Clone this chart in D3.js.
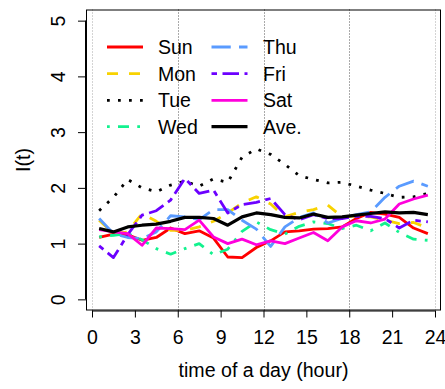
<!DOCTYPE html>
<html>
<head>
<meta charset="utf-8">
<script src="https://cdn.jsdelivr.net/npm/d3@7"></script>
<style>
  html, body { margin: 0; padding: 0; background: #fff; }
  svg { display: block; font-family: "Liberation Sans", Arial, Helvetica, sans-serif; }
</style>
</head>
<body>
<svg id="chart" width="445" height="389"></svg>
<script>
// Hourly intensity I(t) per weekday, sampled at the middle of each hour
const hours = [0.5, 1.5, 2.5, 3.5, 4.5, 5.5, 6.5, 7.5, 8.5, 9.5, 10.5, 11.5,
               12.5, 13.5, 14.5, 15.5, 16.5, 17.5, 18.5, 19.5, 20.5, 21.5, 22.5, 23.5];

const sun = [1.11, 1.17, 1.16, 1.06, 1.11, 1.28, 1.18, 1.23, 1.10, 0.76, 0.75, 0.93,
             1.05, 1.21, 1.23, 1.26, 1.27, 1.30, 1.45, 1.56, 1.53, 1.47, 1.28, 1.18];
const mon = [1.42, 1.18, 1.21, 1.54, 1.40, 1.24, 1.24, 1.30, 1.40, 1.55, 1.73, 1.84,
             1.71, 1.48, 1.56, 1.61, 1.69, 1.48, 1.49, 1.48, 1.42, 1.36, 1.38, 1.28];
const tue = [1.59, 1.83, 2.15, 2.00, 1.93, 2.05, 2.12, 2.03, 2.16, 2.10, 2.55, 2.70,
             2.60, 2.42, 2.22, 2.15, 2.09, 2.10, 2.03, 1.96, 1.90, 1.83, 1.84, 1.90];
const wed = [1.12, 1.15, 1.18, 1.07, 0.91, 0.81, 0.91, 1.00, 0.80, 0.90, 1.22, 1.39,
             1.25, 1.17, 1.31, 1.39, 1.36, 1.27, 1.33, 1.23, 1.37, 1.20, 1.08, 1.06];
const thu = [1.45, 1.18, 1.11, 1.09, 1.21, 1.50, 1.48, 1.43, 1.61, 1.61, 1.42, 1.26,
             0.95, 1.30, 1.47, 1.55, 1.37, 1.45, 1.52, 1.57, 1.83, 2.03, 2.12, 2.03];
const fri = [0.96, 0.75, 1.16, 1.51, 1.59, 1.78, 2.17, 1.90, 1.96, 1.55, 1.70, 1.74,
             1.81, 1.52, 1.43, 1.52, 1.45, 1.45, 1.49, 1.49, 1.45, 1.28, 1.42, 1.39];
const sat = [1.25, 1.21, 1.18, 0.97, 1.28, 1.27, 1.25, 1.42, 1.12, 1.00, 1.08, 0.98,
             1.05, 1.00, 1.10, 1.20, 1.05, 1.30, 1.41, 1.37, 1.44, 1.71, 1.80, 1.87];
const ave = [1.27, 1.21, 1.30, 1.33, 1.35, 1.40, 1.47, 1.47, 1.45, 1.33, 1.48, 1.55,
             1.52, 1.47, 1.46, 1.53, 1.47, 1.48, 1.51, 1.54, 1.57, 1.55, 1.56, 1.52];

const seriesNames = ["Sun", "Mon", "Tue", "Wed", "Thu", "Fri", "Sat", "Ave."];
const seriesValues = [sun, mon, tue, wed, thu, fri, sat, ave];
const seriesColors = ["#ff0000", "#f8d200", "#000000", "#12f28e", "#5a9bff", "#6c00ff", "#ff00dc", "#000000"];
const seriesDashes = ["none", "11,11", "2.75,8.25", "2.75,8.25,11,8.25", "19.25,8.25", "5.5,5.5,16.5,5.5", "none", "none"];

const xTicks = [0, 3, 6, 9, 12, 15, 18, 21, 24];
const yTicks = [0, 1, 2, 3, 4, 5];
const guideHours = [0, 6, 12, 18, 24];

const svg = d3.select("#chart");
const box = { left: 86, right: 441, top: 9.5, bottom: 310.5 };

const x = d3.scaleLinear().domain([-0.42, 24.42]).range([box.left, box.right]);
const y = d3.scaleLinear().domain([-0.2, 5.2]).range([box.bottom, box.top]);

svg.append("defs").append("clipPath").attr("id", "plotClip")
  .append("rect")
  .attr("x", box.left).attr("y", box.top)
  .attr("width", box.right - box.left).attr("height", box.bottom - box.top);

// dotted guides every six hours
svg.append("g").selectAll("line").data(guideHours).join("line")
  .attr("x1", d => Math.round(x(d)) + 0.5).attr("x2", d => Math.round(x(d)) + 0.5)
  .attr("y1", box.top).attr("y2", box.bottom)
  .attr("stroke", d => (d === 0 || d === 24) ? "#a8a8a8" : "#555")
  .attr("stroke-width", 1)
  .attr("stroke-dasharray", "1,2");

// series lines
const line = d3.line().x((d, i) => x(hours[i])).y(d => y(d));
const plot = svg.append("g").attr("clip-path", "url(#plotClip)");
seriesValues.forEach((vals, k) => {
  plot.append("path")
    .datum(vals)
    .attr("d", line)
    .attr("fill", "none")
    .attr("stroke", seriesColors[k])
    .attr("stroke-width", k === 7 ? 3.2 : 2.8)
    .attr("stroke-dasharray", seriesDashes[k])
    .attr("stroke-linejoin", "round");
});

// plot frame
svg.append("rect")
  .attr("x", box.left + 0.5).attr("y", box.top + 0.5)
  .attr("width", box.right - box.left - 1).attr("height", box.bottom - box.top - 1)
  .attr("fill", "none").attr("stroke", "#000").attr("stroke-width", 1);

// axes
const xAxis = svg.append("g")
  .attr("transform", `translate(0,${box.bottom})`)
  .call(d3.axisBottom(x).tickValues(xTicks).tickSize(7).tickSizeOuter(0).tickPadding(13).tickFormat(d3.format("d")));
xAxis.select(".domain").attr("d", `M${x(0)},0.5H${x(24)}`);
xAxis.selectAll("text").attr("font-size", 19.5).attr("fill", "#000").attr("font-family", null);

const yAxis = svg.append("g")
  .attr("transform", `translate(${box.left},0)`)
  .call(d3.axisLeft(y).tickValues(yTicks).tickSize(8).tickSizeOuter(0).tickFormat(d3.format("d")));
yAxis.select(".domain").attr("d", `M-0.5,${y(0)}V${y(5)}`);
yAxis.selectAll("text")
  .attr("x", null).attr("dy", null)
  .attr("text-anchor", "middle")
  .attr("transform", "translate(-21,0) rotate(-90)")
  .attr("font-size", 19.5).attr("fill", "#000").attr("font-family", null);

// axis titles
svg.append("text")
  .attr("x", (box.left + box.right) / 2).attr("y", 377)
  .attr("text-anchor", "middle").attr("font-size", 19.6)
  .text("time of a day (hour)");
svg.append("text")
  .attr("transform", `translate(30,${(box.top + box.bottom) / 2}) rotate(-90)`)
  .attr("text-anchor", "middle").attr("font-size", 19.6)
  .text("I(t)");

// legend, two columns of four
const legendCols = [{ x0: 107, x1: 143, tx: 158 }, { x0: 211.5, x1: 247.5, tx: 263 }];
const legendRows = [47, 73.7, 100.3, 126.7];
const legend = svg.append("g");
seriesNames.forEach((name, k) => {
  const c = legendCols[Math.floor(k / 4)];
  const ry = legendRows[k % 4];
  legend.append("line")
    .attr("x1", c.x0).attr("x2", c.x1).attr("y1", ry).attr("y2", ry)
    .attr("stroke", seriesColors[k])
    .attr("stroke-width", k === 7 ? 3.2 : 2.8)
    .attr("stroke-dasharray", seriesDashes[k]);
  legend.append("text")
    .attr("x", c.tx).attr("y", ry).attr("dy", "0.36em")
    .attr("font-size", 19.5)
    .text(name);
});
</script>
</body>
</html>
